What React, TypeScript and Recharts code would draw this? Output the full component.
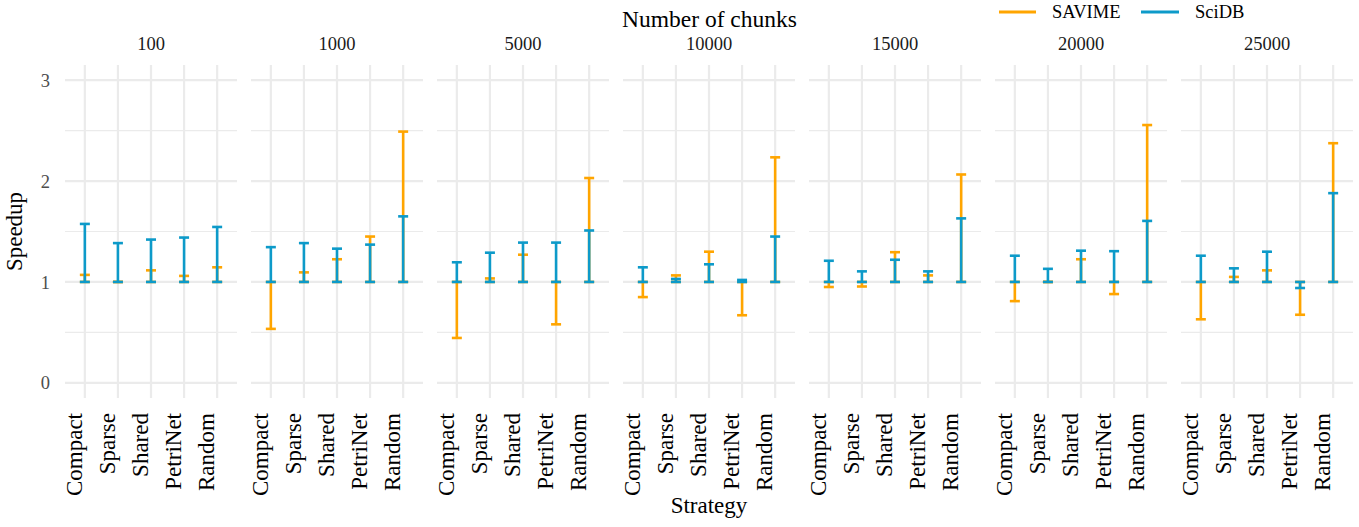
import { ComposedChart, Scatter, ErrorBar, XAxis, YAxis, CartesianGrid } from "recharts"

// facets and categories
const chunkCounts = ["100", "1000", "5000", "10000", "15000", "20000", "25000"]
const strategies = ["Compact", "Sparse", "Shared", "PetriNet", "Random"]

// speedup per facet, one value per strategy (bar runs from 1 to the value)
const savimeSpeedup = [
  [1.07, 1.0, 1.115, 1.06, 1.145],
  [0.535, 1.095, 1.225, 1.45, 2.49],
  [0.445, 1.035, 1.27, 0.58, 2.03],
  [0.85, 1.065, 1.3, 0.67, 2.235],
  [0.95, 0.955, 1.295, 1.065, 2.065],
  [0.81, 1.0, 1.225, 0.88, 2.555],
  [0.63, 1.05, 1.115, 0.675, 2.375],
]
const scidbSpeedup = [
  [1.575, 1.385, 1.42, 1.44, 1.545],
  [1.345, 1.385, 1.33, 1.37, 1.65],
  [1.195, 1.29, 1.39, 1.39, 1.51],
  [1.145, 1.03, 1.175, 1.02, 1.45],
  [1.21, 1.105, 1.22, 1.105, 1.63],
  [1.26, 1.13, 1.31, 1.305, 1.605],
  [1.26, 1.135, 1.3, 0.94, 1.88],
]

const yTicks = [0, 1, 2, 3]
const yMinorTicks = [0.5, 1.5, 2.5]
const xPositions = [1, 2, 3, 4, 5]

const SAVIME_COLOR = "#FFA500"
const SCIDB_COLOR = "#0D9AC9"
const GRID = "#EBEBEB"
const FONT = '"Liberation Serif", "Times New Roman", serif'

const PANEL_LEFT = 65
const PANEL_TOP = 65
const PANEL_W = 172
const PANEL_H = 333
const PANEL_GAP = 14
const AXIS_H = 115
const SIDE_PAD = 12

function toRows(values: number[]) {
  return values.map((v, i) => ({
    x: xPositions[i],
    y: 1,
    err: [1 - Math.min(1, v), Math.max(1, v) - 1],
  }))
}

const noPoint = () => <g />

function StrategyTick({ x, y, payload }: any) {
  return (
    <text
      x={x}
      y={y}
      transform={`rotate(-90, ${x}, ${y})`}
      textAnchor="end"
      dy={-3}
      fontSize={23}
      fontFamily={FONT}
      fill="#000"
    >
      {strategies[payload.value - 1]}
    </text>
  )
}

function Facet({ index }: { index: number }) {
  const first = index === 0
  const yAxisW = first ? PANEL_LEFT : 0
  const padLeft = first ? 0 : SIDE_PAD
  const left = PANEL_LEFT + index * (PANEL_W + PANEL_GAP) - yAxisW - padLeft
  return (
    <div style={{ position: "absolute", left, top: PANEL_TOP }}>
      <ComposedChart
        width={PANEL_W + yAxisW + padLeft}
        height={PANEL_H + AXIS_H}
        margin={{ top: 0, right: 0, bottom: 0, left: padLeft }}
      >
        <CartesianGrid horizontalValues={yMinorTicks} vertical={false} stroke={GRID} strokeWidth={1.1} />
        <CartesianGrid horizontalValues={yTicks} verticalValues={xPositions} stroke={GRID} strokeWidth={2.2} />
        <XAxis
          type="number"
          dataKey="x"
          domain={[0.4, 5.6]}
          allowDataOverflow
          ticks={xPositions}
          interval={0}
          height={AXIS_H}
          axisLine={false}
          tickLine={false}
          tickSize={0}
          tickMargin={15}
          tick={<StrategyTick />}
        />
        <YAxis
          type="number"
          dataKey="y"
          domain={[-0.15, 3.15]}
          allowDataOverflow
          ticks={yTicks}
          width={yAxisW}
          hide={!first}
          axisLine={false}
          tickLine={false}
          tickSize={0}
          tickMargin={15}
          tick={{ fill: "#4D4D4D", fontSize: 18.5, fontFamily: FONT }}
        />
        <Scatter name="SAVIME" data={toRows(savimeSpeedup[index])} shape={noPoint} isAnimationActive={false}>
          <ErrorBar dataKey="err" direction="y" width={5} stroke={SAVIME_COLOR} strokeWidth={2.6} isAnimationActive={false} />
        </Scatter>
        <Scatter name="SciDB" data={toRows(scidbSpeedup[index])} shape={noPoint} isAnimationActive={false}>
          <ErrorBar dataKey="err" direction="y" width={5} stroke={SCIDB_COLOR} strokeWidth={2.6} isAnimationActive={false} />
        </Scatter>
      </ComposedChart>
    </div>
  )
}

export default function App() {
  const centers = chunkCounts.map((_, i) => PANEL_LEFT + i * (PANEL_W + PANEL_GAP) + PANEL_W / 2)
  return (
    <div
      style={{
        position: "absolute",
        left: 0,
        top: 0,
        width: 1359,
        height: 527,
        background: "#fff",
        fontFamily: FONT,
      }}
    >
      {chunkCounts.map((_, i) => (
        <Facet key={i} index={i} />
      ))}
      <svg width={1359} height={527} style={{ position: "absolute", left: 0, top: 0, pointerEvents: "none" }}>
        <text x={709.5} y={27} textAnchor="middle" fontSize={23.5} fontFamily={FONT} fill="#000">
          Number of chunks
        </text>
        {chunkCounts.map((c, i) => (
          <text key={c} x={centers[i]} y={50} textAnchor="middle" fontSize={18.5} fontFamily={FONT} fill="#1A1A1A">
            {c}
          </text>
        ))}
        <text
          x={22}
          y={231.5}
          transform="rotate(-90, 22, 231.5)"
          textAnchor="middle"
          fontSize={23}
          fontFamily={FONT}
          fill="#000"
        >
          Speedup
        </text>
        <text x={709} y={513} textAnchor="middle" fontSize={23} fontFamily={FONT} fill="#000">
          Strategy
        </text>
        <line x1={999} x2={1036} y1={12} y2={12} stroke={SAVIME_COLOR} strokeWidth={3} />
        <text x={1052} y={18} fontSize={18.5} fontFamily={FONT} fill="#000">
          SAVIME
        </text>
        <line x1={1141} x2={1179} y1={12} y2={12} stroke={SCIDB_COLOR} strokeWidth={3} />
        <text x={1195} y={18} fontSize={18.5} fontFamily={FONT} fill="#000">
          SciDB
        </text>
      </svg>
    </div>
  )
}
